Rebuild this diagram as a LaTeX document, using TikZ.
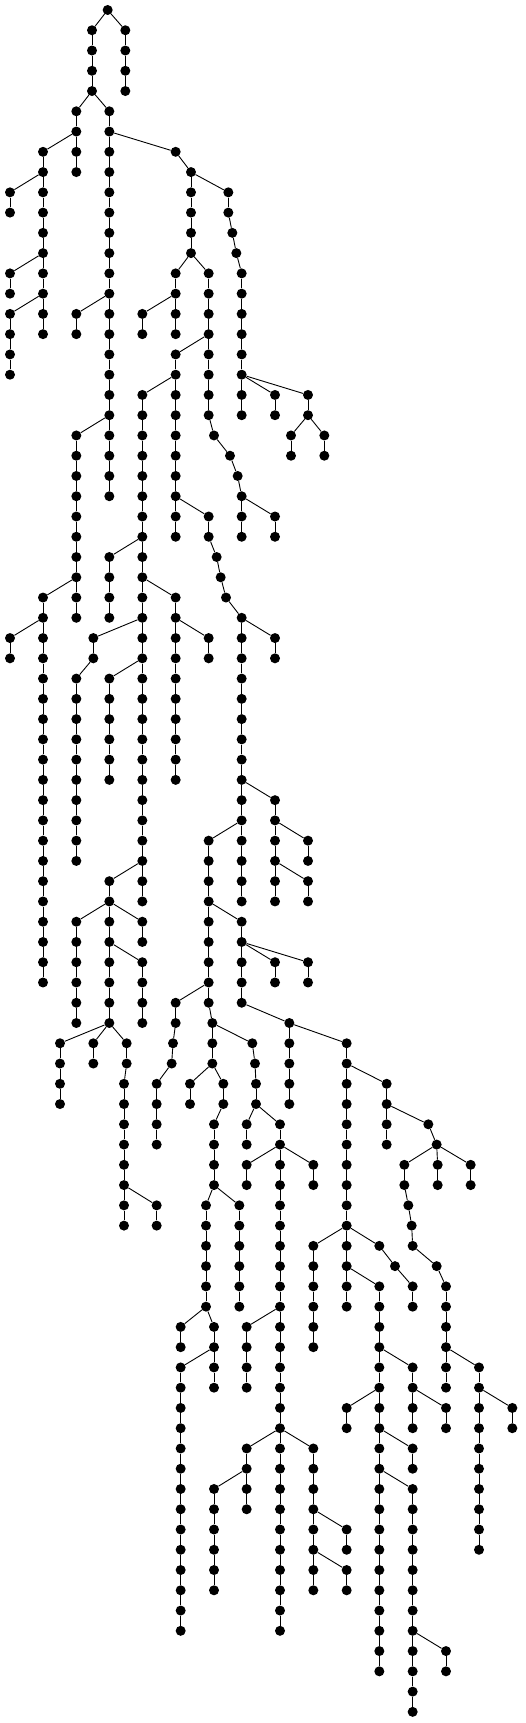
\documentclass[tikz,border=0pt]{standalone}
\tikzset{dot/.style={circle,fill=black,inner sep=0pt,minimum size=10pt},
         link/.style={line width=0.9pt,black}}
\begin{document}
\begin{tikzpicture}[x=1pt,y=-1pt]
\useasboundingbox (0,0) rectangle (526,1723);
\node[dot] (v0-323) at ({323/3},10) {};
\foreach \r/\items in {
1/{276/323,376/323},
2/{276/276,376/376},
3/{276/276,376/376},
4/{276/276,376/376},
5/{229/276,328/276},
6/{229/229,328/328},
7/{129/229,229/229,328/328,527/328},
8/{129/129,229/229,328/328,573/527},
9/{30/129,129/129,328/328,573/573,685/573},
10/{30/30,129/129,328/328,573/573,685/685},
11/{129/129,328/328,573/573,697/685},
12/{129/129,328/328,573/573,709/697},
13/{30/129,129/129,328/328,527/573,626/573,725/709},
14/{30/30,129/129,328/328,527/527,626/626,725/725},
15/{30/129,129/129,229/328,328/328,427/527,527/527,626/626,725/725},
16/{30/30,129/129,229/229,328/328,427/427,527/527,626/626,725/725},
17/{30/30,328/328,527/626,626/626,725/725},
18/{30/30,328/328,527/527,626/626,725/725},
19/{328/328,427/527,527/527,626/626,725/725,825/725,924/725},
20/{328/328,427/427,527/527,626/626,725/725,825/825,924/924},
21/{229/328,328/328,427/427,527/527,642/626,873/924,973/924},
22/{229/229,328/328,427/427,527/527,690/642,873/873,973/973},
23/{229/229,328/328,427/427,527/527,713/690},
24/{229/229,328/328,427/427,527/527,725/713},
25/{229/229,427/427,527/527,626/527,725/725,825/725},
26/{229/229,427/427,527/527,626/626,725/725,825/825},
27/{229/229,328/427,427/427,650/626},
28/{229/229,328/328,427/427,662/650},
29/{129/229,229/229,328/328,427/427,527/427,678/662},
30/{129/129,229/229,328/328,427/427,527/527,725/678},
31/{30/129,129/129,280/427,427/427,527/527,626/527,725/725,825/725},
32/{30/30,129/129,280/280,427/427,527/527,626/626,725/725,825/825},
33/{129/129,229/280,328/427,427/427,527/527,725/725},
34/{129/129,229/229,328/328,427/427,527/527,725/725},
35/{129/129,229/229,328/328,427/427,527/527,725/725},
36/{129/129,229/229,328/328,427/427,527/527,725/725},
37/{129/129,229/229,328/328,427/427,527/527,725/725},
38/{129/129,229/229,328/328,427/427,527/527,725/725},
39/{129/129,229/229,427/427,725/725,825/725},
40/{129/129,229/229,427/427,725/725,825/825},
41/{129/129,229/229,427/427,626/725,725/725,825/825,924/825},
42/{129/129,229/229,427/427,626/626,725/725,825/825,924/924},
43/{129/129,328/427,427/427,626/626,725/725,825/825,924/825},
44/{129/129,328/328,427/427,626/626,725/725,825/825,924/924},
45/{129/129,229/328,328/328,427/328,626/626,725/626},
46/{129/129,229/229,328/328,427/427,626/626,725/725},
47/{129/129,229/229,328/328,427/328,626/626,725/725,825/725,924/725},
48/{129/129,229/229,328/328,427/427,626/626,725/725,825/825,924/924},
49/{229/229,328/328,427/427,527/626,626/626,725/725},
50/{229/229,328/328,427/427,527/527,637/626,868/725},
51/{180/328,280/328,380/328,519/527,637/637,757/637,868/868,1040/868},
52/{180/180,280/280,380/380,515/519,637/637,765/757,868/868,1040/1040},
53/{180/180,372/380,470/515,570/637,670/637,768/765,868/868,1040/1040,1160/1040},
54/{180/180,372/372,470/470,570/570,670/670,768/768,868/868,1040/1040,1160/1160},
55/{372/372,470/470,642/670,740/768,840/768,1040/1040,1160/1160,1285/1160},
56/{372/372,470/470,642/642,740/740,840/840,1040/1040,1160/1160,1310/1285},
57/{372/372,642/642,740/840,840/840,940/840,1040/1040,1213/1310,1313/1310,1412/1310},
58/{372/372,642/642,740/740,840/840,940/940,1040/1040,1213/1213,1313/1313,1412/1412},
59/{372/372,470/372,618/642,718/642,840/840,1040/1040,1225/1213},
60/{372/372,470/470,618/618,718/718,840/840,1040/1040,1235/1225},
61/{618/618,718/718,840/840,940/1040,1040/1040,1138/1040,1238/1235},
62/{618/618,718/718,840/840,940/940,1040/1040,1185/1138,1310/1238},
63/{618/618,718/718,840/840,940/940,1040/1040,1138/1040,1238/1185,1338/1310},
64/{618/618,718/718,840/840,940/940,1040/1040,1138/1138,1238/1238,1338/1338},
65/{542/618,642/618,740/840,840/840,940/940,1138/1138,1338/1338},
66/{542/542,642/642,740/740,840/840,940/940,1138/1138,1338/1338},
67/{542/642,642/642,740/740,840/840,1138/1138,1238/1138,1338/1338,1437/1338},
68/{542/542,642/642,740/740,840/840,1138/1138,1238/1238,1338/1338,1437/1437},
69/{542/542,840/840,1040/1138,1138/1138,1238/1238,1338/1238,1437/1437,1537/1437},
70/{542/542,840/840,1040/1040,1138/1138,1238/1238,1338/1338,1437/1437,1537/1537},
71/{542/542,740/840,840/840,940/840,1138/1138,1238/1138,1437/1437},
72/{542/542,740/740,840/840,940/940,1138/1138,1238/1238,1437/1437},
73/{542/542,642/740,740/740,840/840,940/940,1138/1138,1238/1138,1437/1437},
74/{542/542,642/642,740/740,840/840,940/940,1138/1138,1238/1238,1437/1437},
75/{542/542,642/642,840/840,940/940,1040/940,1138/1138,1238/1238,1437/1437},
76/{542/542,642/642,840/840,940/940,1040/1040,1138/1138,1238/1238,1437/1437},
77/{542/542,642/642,840/840,940/940,1040/940,1138/1138,1238/1238},
78/{542/542,642/642,840/840,940/940,1040/1040,1138/1138,1238/1238},
79/{542/542,840/840,1138/1138,1238/1238},
80/{542/542,840/840,1138/1138,1238/1238},
81/{1138/1138,1238/1238,1338/1238},
82/{1138/1138,1238/1238,1338/1338},
83/{1238/1238},
84/{1238/1238}%
}{
  \pgfmathtruncatemacro{\pr}{\r-1}
  \foreach \x/\p in \items {
    \node[dot] (v\r-\x) at ({\x/3},{10+20.26*\r}) {};
    \draw[link] (v\pr-\p) -- (v\r-\x);
  }
}
\end{tikzpicture}
\end{document}
